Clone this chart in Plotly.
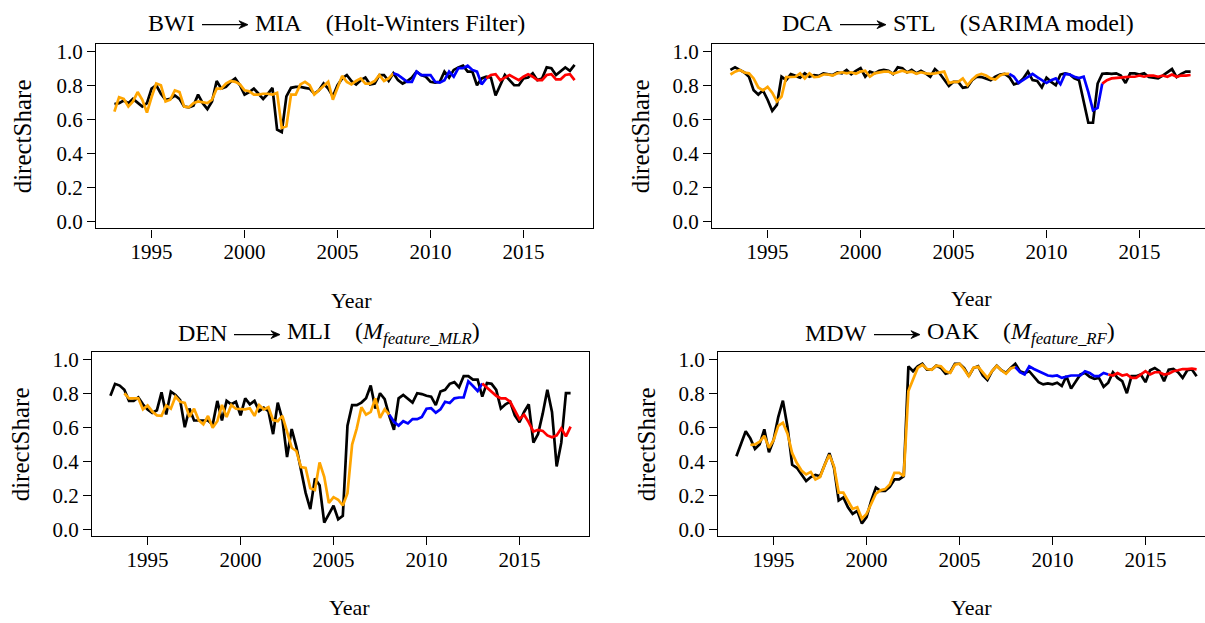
import plotly.graph_objects as go

W, H = 1205, 623
FONT = "'Liberation Serif', 'Times New Roman', Times, serif"

# quarterly time index, 1993 Q1 .. 2017 Q4
years = [1993 + q / 4 for q in range(100)]
TRAIN_END = 60   # 2008 Q1: start of validation period
VALID_END = 80   # 2013 Q1: start of test period

# ---------------- BWI -> MIA (Holt-Winters) ----------------
bwi_mia_actual = [
    0.69, 0.695, 0.71, 0.695, 0.72, 0.70, 0.675, 0.695, 0.78, 0.80, 0.75, 0.715,
    0.72, 0.74, 0.72, 0.675, 0.67, 0.68, 0.745, 0.695, 0.66, 0.705, 0.825, 0.78,
    0.79, 0.82, 0.84, 0.80, 0.745, 0.76, 0.78, 0.75, 0.72, 0.75, 0.785, 0.54,
    0.525, 0.735, 0.785, 0.79, 0.79, 0.785, 0.78, 0.75, 0.77, 0.81, 0.78, 0.735,
    0.80, 0.84, 0.86, 0.825, 0.805, 0.83, 0.845, 0.805, 0.81, 0.86, 0.86, 0.825,
    0.87, 0.83, 0.81, 0.825, 0.845, 0.88, 0.86, 0.85, 0.82, 0.815, 0.82, 0.88,
    0.845, 0.89, 0.905, 0.915, 0.88, 0.88, 0.80, 0.84, 0.85, 0.845, 0.74, 0.80,
    0.86, 0.83, 0.80, 0.80, 0.84, 0.845, 0.87, 0.83, 0.84, 0.905, 0.90, 0.86,
    0.88, 0.905, 0.885, 0.92,
]
bwi_mia_fitted = [
    0.645, 0.73, 0.72, 0.675, 0.705, 0.76, 0.715, 0.64, 0.73, 0.81, 0.80, 0.705,
    0.715, 0.77, 0.76, 0.675, 0.67, 0.695, 0.705, 0.70, 0.695, 0.715, 0.78, 0.78,
    0.81, 0.825, 0.82, 0.805, 0.77, 0.765, 0.745, 0.745, 0.75, 0.75, 0.745, 0.755,
    0.55, 0.56, 0.745, 0.745, 0.805, 0.82, 0.80, 0.745, 0.77, 0.80, 0.82, 0.715,
    0.78, 0.855, 0.82, 0.805, 0.825, 0.84, 0.81, 0.81, 0.825, 0.86, 0.825, 0.84,
    0.87, 0.86, 0.84, 0.82, 0.82, 0.88, 0.86, 0.86, 0.86, 0.82, 0.815, 0.83,
    0.88, 0.85, 0.90, 0.90, 0.915, 0.89, 0.88, 0.805, 0.84, 0.86, 0.865, 0.83,
    0.845, 0.86, 0.845, 0.83, 0.85, 0.865, 0.85, 0.83, 0.83, 0.86, 0.865, 0.835,
    0.835, 0.86, 0.865, 0.83,
]

# ---------------- DCA -> STL (SARIMA) ----------------
dca_stl_actual = [
    0.89, 0.905, 0.89, 0.875, 0.85, 0.77, 0.745, 0.77, 0.715, 0.65, 0.685, 0.85,
    0.83, 0.865, 0.855, 0.845, 0.87, 0.85, 0.86, 0.855, 0.87, 0.865, 0.86, 0.875,
    0.87, 0.89, 0.865, 0.885, 0.90, 0.85, 0.88, 0.87, 0.885, 0.89, 0.885, 0.865,
    0.905, 0.90, 0.875, 0.89, 0.87, 0.885, 0.87, 0.85, 0.895, 0.87, 0.83, 0.795,
    0.82, 0.82, 0.785, 0.79, 0.83, 0.85, 0.848, 0.84, 0.83, 0.85, 0.863, 0.867,
    0.848, 0.805, 0.813, 0.84, 0.88, 0.83, 0.825, 0.787, 0.844, 0.82, 0.80, 0.863,
    0.87, 0.863, 0.84, 0.83, 0.695, 0.58, 0.58, 0.81, 0.867, 0.87, 0.867, 0.87,
    0.857, 0.813, 0.87, 0.87, 0.863, 0.87, 0.848, 0.844, 0.84, 0.857, 0.876, 0.895,
    0.848, 0.867, 0.88, 0.88,
]
dca_stl_fitted = [
    0.863, 0.88, 0.89, 0.875, 0.87, 0.84, 0.787, 0.77, 0.79, 0.756, 0.705, 0.733,
    0.848, 0.85, 0.85, 0.87, 0.84, 0.87, 0.848, 0.85, 0.863, 0.863, 0.857, 0.87,
    0.876, 0.87, 0.876, 0.867, 0.88, 0.885, 0.85, 0.87, 0.876, 0.88, 0.88, 0.867,
    0.876, 0.885, 0.876, 0.88, 0.867, 0.876, 0.87, 0.867, 0.87, 0.876, 0.88, 0.813,
    0.82, 0.82, 0.84, 0.80, 0.833, 0.857, 0.867, 0.857, 0.84, 0.833, 0.857, 0.867,
    0.867, 0.85, 0.813, 0.83, 0.848, 0.867, 0.848, 0.83, 0.813, 0.83, 0.84, 0.806,
    0.867, 0.863, 0.85, 0.842, 0.85, 0.76, 0.653, 0.667, 0.81, 0.83, 0.84, 0.844,
    0.844, 0.848, 0.85, 0.85, 0.857, 0.85, 0.857, 0.857, 0.85, 0.857, 0.85, 0.863,
    0.85, 0.857, 0.857, 0.86,
]

# ---------------- DEN -> MLI (feature MLR) ----------------
den_mli_actual = [
    0.785, 0.855, 0.845, 0.82, 0.755, 0.755, 0.775, 0.735, 0.705, 0.685, 0.70, 0.805,
    0.675, 0.81, 0.79, 0.76, 0.60, 0.71, 0.64, 0.64, 0.64, 0.64, 0.615, 0.755,
    0.64, 0.755, 0.735, 0.75, 0.67, 0.77, 0.735, 0.755, 0.695, 0.715, 0.695, 0.56,
    0.745, 0.645, 0.425, 0.59, 0.485, 0.35, 0.215, 0.12, 0.30, 0.26, 0.04, 0.09,
    0.14, 0.06, 0.08, 0.61, 0.73, 0.73, 0.745, 0.77, 0.845, 0.71, 0.80, 0.765,
    0.665, 0.585, 0.77, 0.79, 0.77, 0.745, 0.80, 0.795, 0.785, 0.78, 0.73, 0.81,
    0.82, 0.855, 0.865, 0.835, 0.90, 0.90, 0.88, 0.88, 0.78, 0.86, 0.855, 0.82,
    0.71, 0.735, 0.75, 0.67, 0.63, 0.69, 0.735, 0.51, 0.56, 0.68, 0.82, 0.69,
    0.37, 0.51, 0.80, 0.80,
]
den_mli_fitted = [
    None, None, None, 0.80, 0.77, 0.77, 0.77, 0.705, 0.728, 0.693, 0.67, 0.667,
    0.728, 0.709, 0.78, 0.75, 0.743, 0.661, 0.709, 0.642, 0.617, 0.667, 0.598, 0.636,
    0.731, 0.661, 0.731, 0.709, 0.709, 0.705, 0.712, 0.667, 0.731, 0.705, 0.718, 0.642,
    0.636, 0.667, 0.575, 0.48, 0.461, 0.366, 0.362, 0.242, 0.232, 0.394, 0.309, 0.156,
    0.19, 0.175, 0.141, 0.213, 0.499, 0.594, 0.718, 0.674, 0.69, 0.77, 0.655, 0.705,
    0.674, 0.632, 0.61, 0.636, 0.623, 0.648, 0.648, 0.661, 0.709, 0.712, 0.686, 0.705,
    0.75, 0.743, 0.77, 0.775, 0.775, 0.87, 0.842, 0.813, 0.857, 0.832, 0.808, 0.785,
    0.77, 0.77, 0.75, 0.70, 0.648, 0.674, 0.629, 0.575, 0.585, 0.579, 0.552, 0.541,
    0.552, 0.594, 0.547, 0.604,
]

# ---------------- MDW -> OAK (feature RF) ----------------
mdw_oak_actual = [
    0.43, 0.51, 0.577, 0.535, 0.473, 0.50, 0.588, 0.454, 0.525, 0.66, 0.756, 0.60,
    0.38, 0.362, 0.323, 0.285, 0.308, 0.32, 0.313, 0.38, 0.448, 0.362, 0.17, 0.188,
    0.13, 0.092, 0.11, 0.035, 0.073, 0.17, 0.246, 0.227, 0.227, 0.25, 0.294, 0.294,
    0.313, 0.958, 0.929, 0.958, 0.973, 0.938, 0.938, 0.962, 0.948, 0.915, 0.923, 0.973,
    0.973, 0.948, 0.90, 0.948, 0.958, 0.904, 0.877, 0.929, 0.962, 0.935, 0.919, 0.948,
    0.973, 0.929, 0.919, 0.929, 0.90, 0.865, 0.852, 0.858, 0.852, 0.862, 0.842, 0.90,
    0.827, 0.871, 0.91, 0.919, 0.896, 0.885, 0.89, 0.838, 0.862, 0.923, 0.89, 0.871,
    0.80, 0.90, 0.90, 0.91, 0.865, 0.935, 0.948, 0.929, 0.871, 0.938, 0.942, 0.923,
    0.89, 0.935, 0.94, 0.90,
]
mdw_oak_fitted = [
    None, None, None, 0.496, 0.50, 0.515, 0.55, 0.48, 0.525, 0.608, 0.627, 0.563,
    0.448, 0.39, 0.346, 0.323, 0.338, 0.294, 0.308, 0.38, 0.438, 0.371, 0.217, 0.217,
    0.17, 0.121, 0.131, 0.063, 0.092, 0.15, 0.21, 0.23, 0.237, 0.265, 0.333, 0.333,
    0.313, 0.813, 0.88, 0.948, 0.967, 0.942, 0.938, 0.962, 0.958, 0.929, 0.919, 0.967,
    0.973, 0.94, 0.90, 0.95, 0.955, 0.92, 0.89, 0.93, 0.96, 0.935, 0.915, 0.945,
    0.954, 0.923, 0.91, 0.958, 0.942, 0.929, 0.919, 0.904, 0.90, 0.904, 0.89, 0.896,
    0.904, 0.904, 0.904, 0.929, 0.919, 0.90, 0.90, 0.919, 0.91, 0.904, 0.919, 0.904,
    0.91, 0.89, 0.89, 0.91, 0.929, 0.91, 0.923, 0.923, 0.91, 0.915, 0.929, 0.935,
    0.942, 0.942, 0.945, 0.94,
]

x_ticks = [1995, 2000, 2005, 2010, 2015]
y_ticks = [0.0, 0.2, 0.4, 0.6, 0.8, 1.0]
y_tick_labels = ["0.0", "0.2", "0.4", "0.6", "0.8", "1.0"]

SP = "\u00a0"
panels = [
    dict(actual=bwi_mia_actual, fitted=bwi_mia_fitted,
         origin="BWI", rest=f"MIA{SP*4}(Holt-Winters Filter)",
         box=(96, 593, 40, 227), arrow_x=(202, 248), title_y=18,
         ylab_x=22, xlab_xy=(351, 300)),
    dict(actual=dca_stl_actual, fitted=dca_stl_fitted,
         origin="DCA", rest=f"STL{SP*4}(SARIMA model)",
         box=(712, 1209, 40, 227), arrow_x=(840, 886), title_y=18,
         ylab_x=640, xlab_xy=(971, 298)),
    dict(actual=den_mli_actual, fitted=den_mli_fitted,
         origin="DEN", rest=f"MLI{SP*4}(<i>M<sub>feature_MLR</sub></i>)",
         box=(92, 589, 353, 540), arrow_x=(234, 280), title_y=333,
         ylab_x=20, xlab_xy=(349, 612)),
    dict(actual=mdw_oak_actual, fitted=mdw_oak_fitted,
         origin="MDW", rest=f"OAK{SP*4}(<i>M<sub>feature_RF</sub></i>)",
         box=(718, 1215, 353, 540), arrow_x=(874, 920), title_y=333,
         ylab_x=646, xlab_xy=(971, 612)),
]

X_LO, X_HI = 1992.01, 2018.74   # 4% padding around 1993..2017.75
Y_LO, Y_HI = -0.04, 1.04


def px(x):
    return x / W


def py(y):
    return 1 - y / H


fig = go.Figure()
annotations = []
shapes = []

for k, p in enumerate(panels, start=1):
    xa = "x" if k == 1 else f"x{k}"
    ya = "y" if k == 1 else f"y{k}"
    left, right, top, bottom = p["box"]
    full_w = right - left
    vis_right = min(right, W)
    x_hi = X_LO + (X_HI - X_LO) * (vis_right - left) / full_w

    fig.add_trace(go.Scatter(x=years, y=p["actual"], mode="lines",
                             line=dict(color="black", width=2.7),
                             xaxis=xa, yaxis=ya, showlegend=False))
    segments = [
        (0, TRAIN_END + 1, "#FFA500"),
        (TRAIN_END, VALID_END + 1, "#0000FF"),
        (VALID_END, len(years), "#FF0000"),
    ]
    for a, b, col in segments:
        fig.add_trace(go.Scatter(x=years[a:b], y=p["fitted"][a:b], mode="lines",
                                 line=dict(color=col, width=2.7),
                                 connectgaps=False,
                                 xaxis=xa, yaxis=ya, showlegend=False))

    ax_common = dict(showgrid=False, zeroline=False, showline=True,
                     linecolor="black", linewidth=1.3, ticks="outside",
                     ticklen=8, tickwidth=1.3, tickcolor="black",
                     tickfont=dict(family=FONT, size=21, color="black"))
    fig.update_layout(**{
        ("xaxis" if k == 1 else f"xaxis{k}"): dict(
            domain=[left / W, vis_right / W], range=[X_LO, x_hi],
            tickvals=x_ticks, ticktext=[str(t) for t in x_ticks],
            ticklabelstandoff=-4,
            anchor=ya, mirror=True, **ax_common),
        ("yaxis" if k == 1 else f"yaxis{k}"): dict(
            domain=[1 - bottom / H, 1 - top / H], range=[Y_LO, Y_HI],
            tickvals=y_ticks, ticktext=y_tick_labels,
            anchor=xa, mirror=(right <= W), **ax_common),
    })

    # panel title: "ORIGIN --> DEST  (model)"
    a0, a1 = p["arrow_x"]
    ty = p["title_y"]
    title_font = dict(family=FONT, size=24, color="black")
    annotations.append(dict(text=p["origin"], x=px(a0 - 5), y=py(ty),
                            xref="paper", yref="paper", showarrow=False,
                            xanchor="right", yanchor="middle", font=title_font))
    annotations.append(dict(text=p["rest"], x=px(a1 + 5), y=py(ty),
                            xref="paper", yref="paper", showarrow=False,
                            xanchor="left", yanchor="middle", font=title_font))
    ay = ty + 2
    shapes.append(dict(type="line", xref="paper", yref="paper",
                       x0=px(a0), x1=px(a1 - 3), y0=py(ay), y1=py(ay),
                       line=dict(color="black", width=1.3)))
    shapes.append(dict(type="path", xref="paper", yref="paper",
                       path=(f"M {px(a1)} {py(ay)} L {px(a1 - 9)} {py(ay - 4)} "
                             f"L {px(a1 - 6)} {py(ay)} L {px(a1 - 9)} {py(ay + 4)} Z"),
                       fillcolor="black", line=dict(color="black", width=0.8)))

    annotations.append(dict(text="directShare", x=px(p["ylab_x"]),
                            y=py((top + bottom) / 2),
                            xref="paper", yref="paper", showarrow=False,
                            textangle=-90, xanchor="center", yanchor="middle",
                            font=dict(family=FONT, size=25, color="black")))
    lx, ly = p["xlab_xy"]
    annotations.append(dict(text="Year", x=px(lx), y=py(ly),
                            xref="paper", yref="paper", showarrow=False,
                            xanchor="center", yanchor="middle",
                            font=dict(family=FONT, size=22, color="black")))

fig.update_layout(width=W, height=H, margin=dict(l=0, r=0, t=0, b=0),
                  paper_bgcolor="white", plot_bgcolor="white",
                  annotations=annotations, shapes=shapes)

fig.write_html("out.html")
